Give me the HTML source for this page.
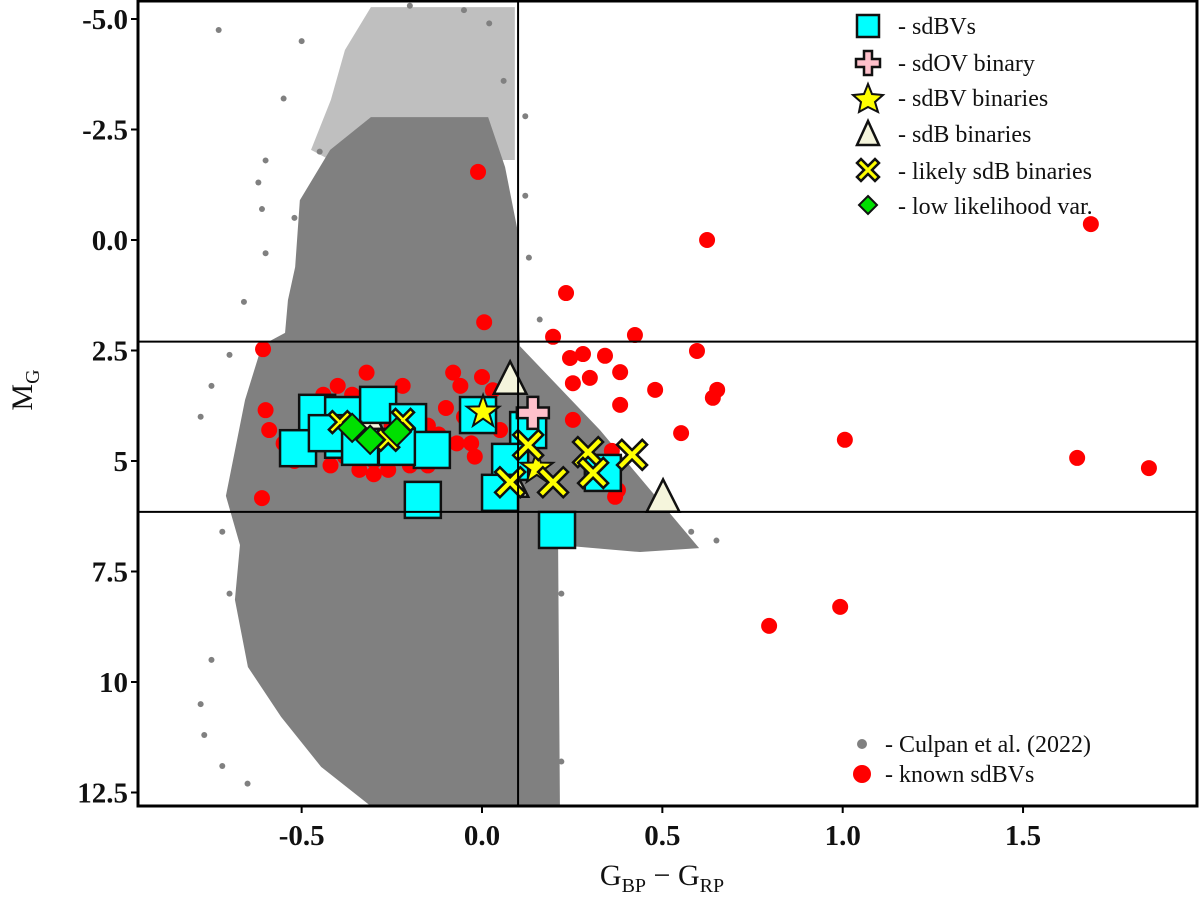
<!DOCTYPE html>
<html><head><meta charset="utf-8"><style>
html,body{margin:0;padding:0;background:#fff}
svg{display:block}
.tk{font-family:"Liberation Serif",serif;font-weight:bold;font-size:29px;fill:#111}
.lg{font-family:"Liberation Serif",serif;font-size:24px;fill:#111}
</style></head><body>
<svg id="chart" width="1200" height="897" viewBox="0 0 1200 897">
<defs><clipPath id="clip"><rect x="138" y="0" width="1059" height="806"/></clipPath></defs>
<g id="plot" clip-path="url(#clip)"></g>
<g id="axes"></g>
</svg>
<script>
const xTicks=[-0.5,0.0,0.5,1.0,1.5];
const xTickLabels=["-0.5","0.0","0.5","1.0","1.5"];
const yTicks=[-5,-2.5,0,2.5,5,7.5,10,12.5];
const yTickLabels=["-5.0","-2.5","0.0","2.5","5","7.5","10","12.5"];
const cloudColor=[-0.308,0.017,0.064,0.100,0.105,0.327,0.602,0.438,0.211,0.216,-0.308,-0.446,-0.557,-0.649,-0.685,-0.671,-0.710,-0.657,-0.610,-0.546,-0.538,-0.518,-0.505,-0.421];
const cloudMag=[-2.78,-2.78,-1.65,-0.16,2.40,4.30,6.97,7.06,6.90,12.81,12.81,11.92,10.79,9.66,8.14,6.90,5.79,3.62,2.38,2.10,1.36,0.61,-0.90,-2.04];
const sparseColor=[-0.308,0.091,0.091,-0.421,-0.474,-0.419,-0.380];
const sparseMag=[-5.27,-5.27,-1.81,-1.81,-2.04,-3.17,-4.30];
const outlierColor=[-0.73,-0.62,-0.61,-0.6,-0.66,-0.7,-0.78,-0.75,-0.67,-0.72,-0.7,-0.75,-0.78,-0.77,-0.72,-0.65,0.12,0.12,0.13,0.16,-0.05,0.02,-0.2,0.06,-0.5,-0.45,0.22,0.2,0.22,0.65,0.58,-0.55,-0.52,-0.6];
const outlierMag=[-4.75,-1.3,-0.7,0.3,1.4,2.6,4.0,3.3,4.9,6.6,8.0,9.5,10.5,11.2,11.9,12.3,-2.8,-1.0,0.4,1.8,-5.2,-4.9,-5.3,-3.6,-4.5,-2.0,8.0,9.5,11.8,6.8,6.6,-3.2,-0.5,-1.8];
const knownColor=[-0.011,0.624,1.688,0.233,0.006,0.197,0.244,0.28,0.341,0.424,0.596,0.383,0.299,0.252,0.48,0.652,0.64,0.552,0.252,0.383,0.36,0.369,0.377,1.006,1.65,1.849,0.796,0.993,-0.61,-0.607,-0.6,-0.59,-0.55,-0.52,-0.5,-0.47,-0.45,-0.42,-0.4,-0.38,-0.36,-0.34,-0.32,-0.3,-0.28,-0.26,-0.24,-0.22,-0.2,-0.18,-0.15,-0.12,-0.1,-0.07,-0.05,-0.02,0.0,0.03,0.05,-0.48,-0.44,-0.35,-0.3,-0.25,-0.2,-0.15,-0.4,-0.33,-0.27,-0.1,-0.06,-0.03,0.02,-0.08,-0.36];
const knownMag=[-1.54,0.0,-0.36,1.2,1.86,2.19,2.67,2.58,2.62,2.15,2.51,2.99,3.12,3.24,3.39,3.39,3.57,4.37,4.07,3.73,4.77,5.81,5.66,4.52,4.93,5.16,8.73,8.3,5.84,2.47,3.85,4.3,4.6,5.0,4.9,4.4,3.7,5.1,3.3,4.9,3.5,5.2,3.0,5.0,3.6,5.2,4.9,3.3,4.8,4.3,5.1,4.4,3.8,4.6,4.0,4.9,3.1,3.4,4.3,4.0,3.5,4.3,5.3,4.2,5.1,4.2,4.6,3.8,3.6,4.6,3.3,4.6,4.2,3.0,3.9];
const sdbvColor=[-0.457,-0.385,-0.288,-0.205,-0.51,-0.139,-0.236,-0.385,-0.164,-0.011,0.128,0.078,0.05,0.335,0.208,-0.43,-0.338];
const sdbvMag=[3.91,3.96,3.73,4.12,4.71,4.75,4.68,4.52,5.88,3.96,4.3,5.02,5.72,5.27,6.56,4.37,4.68];
const sdovColor=[0.141];const sdovMag=[3.91];
const starColor=[0.003,0.152];const starMag=[3.89,5.16];
const triColor=[0.078,0.502,-0.319,0.083];const triMag=[3.17,5.84,4.0,5.5];
const crossColor=[0.128,0.078,0.197,0.294,0.308,0.416,-0.394,-0.26,-0.219];
const crossMag=[4.64,5.48,5.48,4.8,5.27,4.86,4.12,4.52,4.07];
const diaColor=[-0.36,-0.31,-0.236];const diaMag=[4.25,4.52,4.34];
const vLine=[0.1];const hLines=[2.3,6.15];

const X=v=>482+(v)*360.7;
const Y=v=>240+(v)*44.2;
const NS='http://www.w3.org/2000/svg';
const plot=document.getElementById('plot'),axes=document.getElementById('axes');
function mk(tag,attrs,parent){const e=document.createElementNS(NS,tag);for(const k in attrs)e.setAttribute(k,attrs[k]);parent.appendChild(e);return e;}

let sp=mk('polygon',{points:sparseColor.map((c,i)=>X(c)+','+Y(sparseMag[i])).join(' '),fill:'#808080','fill-opacity':0.5},plot);


let cl=mk('polygon',{points:cloudColor.map((c,i)=>X(c)+','+Y(cloudMag[i])).join(' '),fill:'#808080'},plot);


outlierColor.forEach((c,i)=>{const e=mk('circle',{cx:X(c),cy:Y(outlierMag[i]),r:3,fill:'#808080'},plot);

});
knownColor.forEach((c,i)=>{const e=mk('circle',{cx:X(c),cy:Y(knownMag[i]),r:8,fill:'#ff0000'},plot);

});

function square(g,x,y,s){mk('rect',{x:x-s/2,y:y-s/2,width:s,height:s,fill:'#00ffff',stroke:'#111','stroke-width':2.5},g);}
function plus(g,x,y,s){const a=s/6,b=s/2;mk('polygon',{points:[[-a,-b],[a,-b],[a,-a],[b,-a],[b,a],[a,a],[a,b],[-a,b],[-a,a],[-b,a],[-b,-a],[-a,-a]].map(p=>(x+p[0])+','+(y+p[1])).join(' '),fill:'#ffc0cb',stroke:'#111','stroke-width':2.5},g);}
function star(g,x,y,s){let p=[];for(let i=0;i<10;i++){const r=i%2?s*0.2:s*0.5,a=-Math.PI/2+i*Math.PI/5;p.push((x+r*Math.cos(a))+','+(y+r*Math.sin(a)));}mk('polygon',{points:p.join(' '),fill:'#ffff00',stroke:'#111','stroke-width':2},g);}
function tri(g,x,y,s){mk('polygon',{points:`${x},${y-s*0.55} ${x+s*0.48},${y+s*0.4} ${x-s*0.48},${y+s*0.4}`,fill:'#f5f5dc',stroke:'#111','stroke-width':2.5},g);}
function cross(g,x,y,s){const a=s*0.16,b=s*0.5;const p=[[0,-a],[b-a,-b],[b,-b+a],[a,0],[b,b-a],[b-a,b],[0,a],[-b+a,b],[-b,b-a],[-a,0],[-b,-b+a],[-b+a,-b]];mk('polygon',{points:p.map(q=>(x+q[0])+','+(y+q[1])).join(' '),fill:'#ffff00',stroke:'#111','stroke-width':2.5},g);}
function dia(g,x,y,s){const b=s/2;mk('polygon',{points:`${x},${y-b} ${x+b},${y} ${x},${y+b} ${x-b},${y}`,fill:'#00e000',stroke:'#111','stroke-width':2},g);}

triColor.forEach((c,i)=>{const g=mk('g',{},plot);tri(g,X(c),Y(triMag[i]),34);});
sdbvColor.forEach((c,i)=>{const g=mk('g',{},plot);square(g,X(c),Y(sdbvMag[i]),36);});
sdovColor.forEach((c,i)=>{const g=mk('g',{},plot);plus(g,X(c),Y(sdovMag[i]),32);});
starColor.forEach((c,i)=>{const g=mk('g',{},plot);star(g,X(c),Y(starMag[i]),34);});
crossColor.forEach((c,i)=>{const g=mk('g',{},plot);cross(g,X(c),Y(crossMag[i]),i>=6?22:30);});
diaColor.forEach((c,i)=>{const g=mk('g',{},plot);dia(g,X(c),Y(diaMag[i]),28);});

vLine.forEach(v=>{const e=mk('line',{x1:X(v),x2:X(v),y1:0,y2:806,stroke:'#000','stroke-width':2},plot);});
hLines.forEach(v=>{const e=mk('line',{x1:138,x2:1197,y1:Y(v),y2:Y(v),stroke:'#000','stroke-width':2},plot);});

const fr=mk('rect',{x:138,y:1,width:1059,height:805,fill:'none',stroke:'#000','stroke-width':3},axes);

xTicks.forEach((v,i)=>{mk('line',{x1:X(v),x2:X(v),y1:806,y2:813,stroke:'#000','stroke-width':2},axes);
const t=mk('text',{x:X(v),y:845,'text-anchor':'middle',class:'tk'},axes);t.textContent=xTickLabels[i];
});
yTicks.forEach((v,i)=>{mk('line',{x1:131,x2:138,y1:Y(v),y2:Y(v),stroke:'#000','stroke-width':2},axes);
const t=mk('text',{x:128,y:Y(v)+10,'text-anchor':'end',class:'tk'},axes);t.textContent=yTickLabels[i];
});
</script>
<script>
(function(){
const svg=document.getElementById('chart');const NS='http://www.w3.org/2000/svg';
function add(html){const g=document.createElementNS(NS,'g');g.innerHTML=html;svg.appendChild(g);return g;}
add(`<text x="662" y="885" text-anchor="middle" font-family="Liberation Serif, serif" font-size="30" fill="#111">G<tspan font-size="20" dy="7">BP</tspan><tspan dy="-7"> − G</tspan><tspan font-size="20" dy="7">RP</tspan></text>
<text transform="translate(32,390) rotate(-90)" text-anchor="middle" font-family="Liberation Serif, serif" font-size="30" fill="#111">M<tspan font-size="20" dy="7">G</tspan></text>`);
add(`<g>
<rect x="857" y="15" width="22" height="22" fill="#00ffff" stroke="#111" stroke-width="2.5"/>
<text class="lg" x="898" y="34">- sdBVs</text>
<polygon points="864,51 872,51 872,59 880,59 880,67 872,67 872,75 864,75 864,67 856,67 856,59 864,59" fill="#ffc0cb" stroke="#111" stroke-width="2.5"/>
<text class="lg" x="898" y="71">- sdOV binary</text>
<polygon points="868,84 872,94 883,95 875,102 878,112 868,107 859,112 861,102 853,95 864,94" fill="#ffff00" stroke="#111" stroke-width="2"/>
<text class="lg" x="898" y="106">- sdBV binaries</text>
<polygon points="868,121 879,145 857,145" fill="#f5f5dc" stroke="#111" stroke-width="2.5"/>
<text class="lg" x="898" y="142">- sdB binaries</text>
<polygon points="868,166 875,159 879,163 872,170 879,177 875,181 868,174 861,181 857,177 864,170 857,163 861,159" fill="#ffff00" stroke="#111" stroke-width="2.5"/>
<text class="lg" x="898" y="179">- likely sdB binaries</text>
<polygon points="868,196 877,205 868,214 859,205" fill="#00e000" stroke="#111" stroke-width="2"/>
<text class="lg" x="898" y="214">- low likelihood var.</text>
</g>
<g>
<circle cx="862" cy="744" r="5" fill="#808080"/>
<text class="lg" x="885" y="752">- Culpan et al. (2022)</text>
<circle cx="862" cy="774" r="9" fill="#ff0000"/>
<text class="lg" x="885" y="782">- known sdBVs</text>
</g>`);
})();
</script>
</body></html>
